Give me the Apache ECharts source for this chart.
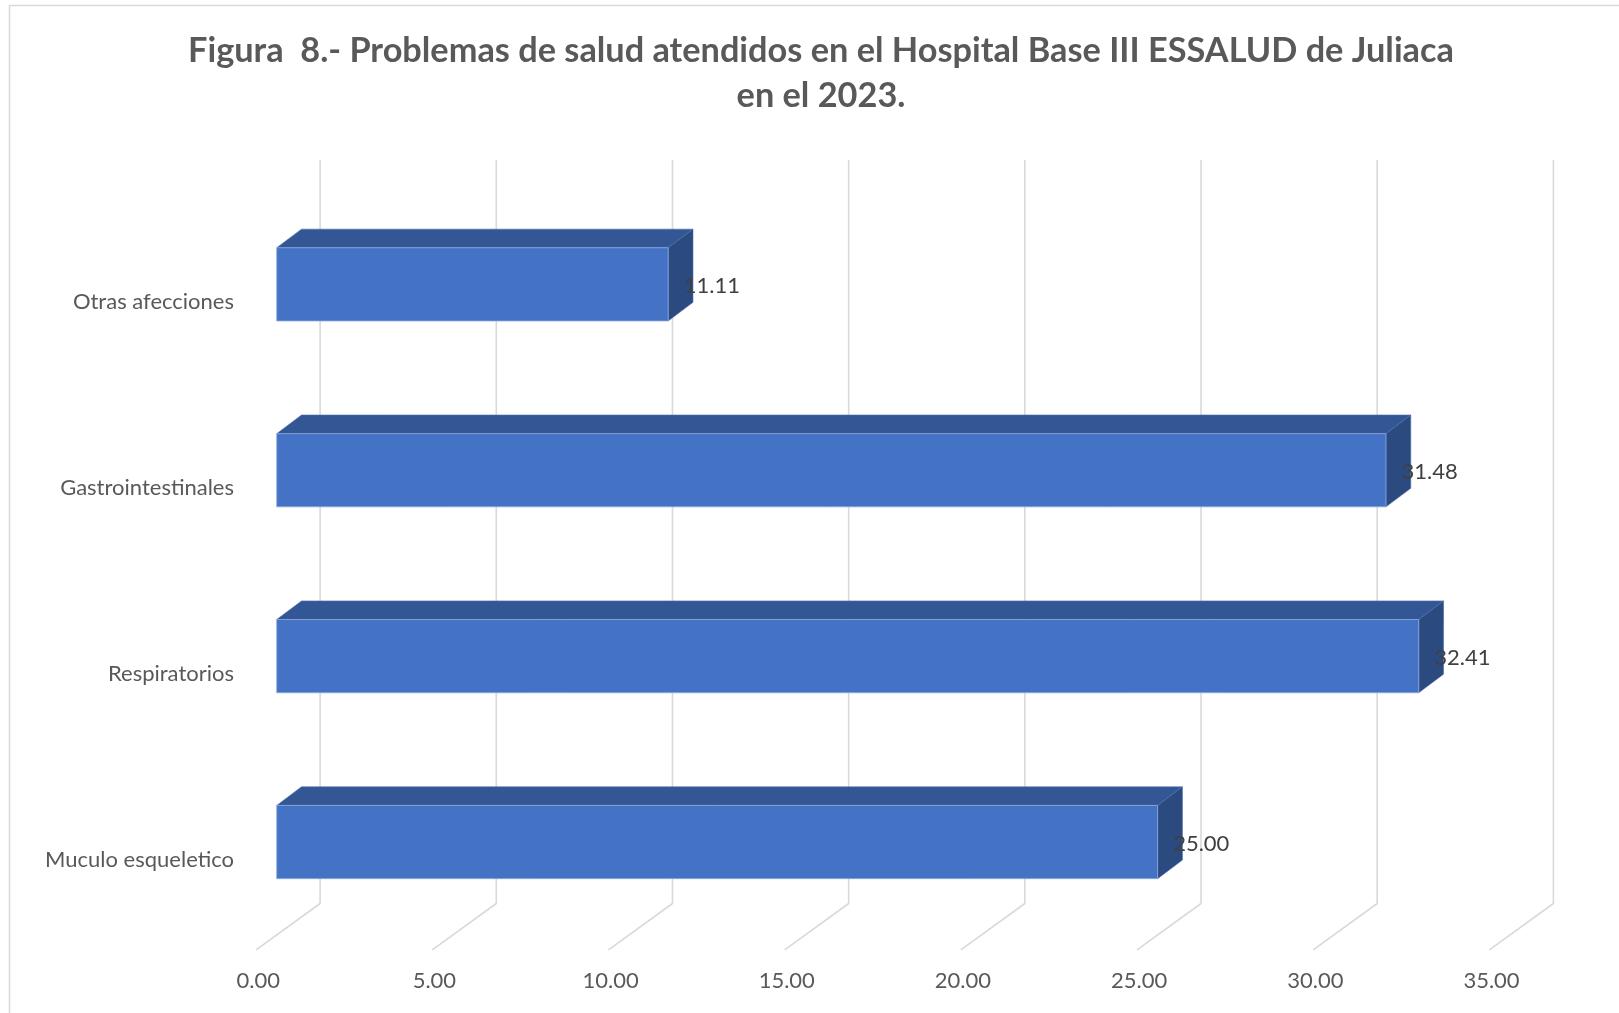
<!DOCTYPE html>
<html><head><meta charset="utf-8">
<script src="https://cdn.jsdelivr.net/npm/echarts@6/dist/echarts.min.js"></script>
<style>html,body{margin:0;padding:0;background:#fff}#c{width:1619px;height:1013px}</style>
</head><body><div id="c"></div>
<script>
const titleText = 'Figura  8.- Problemas de salud atendidos en el Hospital Base III ESSALUD de Juliaca\nen el 2023.';
const categories = ['Muculo esqueletico', 'Respiratorios', 'Gastrointestinales', 'Otras afecciones'];
const values = [25.00, 32.41, 31.48, 11.11];
const ticks = [0, 5, 10, 15, 20, 25, 30, 35];

const FONT = 'Lato, "Open Sans", sans-serif';
const DEPTH_BAR = [24.8, -18.6];
const WALL = [43.4, -31.5];
const FLOOR_FRONT = [-20.6, 14.8];

const chart = echarts.init(document.getElementById('c'), null, {renderer: 'canvas'});
chart.setOption({
  backgroundColor: '#ffffff',
  animation: false,
  title: {
    text: titleText,
    left: 816, top: 24, textAlign: 'center',
    textStyle: {fontFamily: FONT, fontSize: 34.3, fontWeight: 'bold', color: '#595959', lineHeight: 44.4}
  },
  graphic: [{
    type: 'rect', shape: {x: 9.5, y: 5.5, width: 1700, height: 1100},
    style: {fill: 'none', stroke: '#d9d9d9', lineWidth: 1.5}, z: -10
  }],
  grid: {left: 276.7, right: 109, top: 191.4, bottom: 78},
  xAxis: {
    type: 'value', min: 0, max: 35, interval: 5,
    axisLine: {show: false}, axisTick: {show: false}, splitLine: {show: false},
    axisLabel: {
      formatter: v => v.toFixed(2), margin: 35, padding: [0, 37, 0, 0],
      fontFamily: FONT, fontSize: 22, color: '#595959'
    }
  },
  yAxis: {
    type: 'category', data: categories,
    axisLine: {show: false}, axisTick: {show: false}, splitLine: {show: false},
    axisLabel: {margin: 42.7, formatter: v => '\n' + v, lineHeight: 35, fontFamily: FONT, fontSize: 22, color: '#595959'}
  },
  series: [
    {
      type: 'custom', z: 1, silent: true,
      data: ticks.map(t => [t, 0]),
      renderItem: function (params, api) {
        const cs = params.coordSys;
        const x = api.coord([api.value(0), 0])[0];
        const top = cs.y, bot = cs.y + cs.height;
        return {
          type: 'polyline',
          shape: {points: [
            [x + WALL[0], top + WALL[1]],
            [x + WALL[0], bot + WALL[1]],
            [x + FLOOR_FRONT[0], bot + FLOOR_FRONT[1]]
          ]},
          style: {stroke: '#d9d9d9', lineWidth: 1.6, fill: 'none'}
        };
      }
    },
    {
      type: 'custom', z: 5, silent: true,
      data: values.map((v, i) => [v, i]),
      renderItem: function (params, api) {
        const v = api.value(0), i = api.value(1);
        const s = api.coord([0, i]);
        const e = api.coord([v, i]);
        const band = api.size([0, 1])[1];
        const h = band * 0.394;
        const x0 = s[0], x1 = e[0], c = s[1];
        const yT = c - h / 2, yB = c + h / 2;
        const dx = DEPTH_BAR[0], dy = DEPTH_BAR[1];
        return {
          type: 'group',
          children: [
            {type: 'polygon', shape: {points: [[x0, yT], [x0 + dx, yT + dy], [x1 + dx, yT + dy], [x1, yT]]},
             style: {fill: '#335795', stroke: '#4a6fae', lineWidth: 0.6}},
            {type: 'polygon', shape: {points: [[x1, yT], [x1 + dx, yT + dy], [x1 + dx, yB + dy], [x1, yB]]},
             style: {fill: '#2b4a80', stroke: '#4a6fae', lineWidth: 0.6}},
            {type: 'rect', shape: {x: x0, y: yT, width: x1 - x0, height: h},
             style: {fill: '#4472c4', stroke: '#8fa9dd', lineWidth: 0.8}},
            {type: 'text', x: x1 + 15.5, y: c + 1.5,
             style: {text: v.toFixed(2), fill: '#404040', font: '22px ' + FONT, align: 'left', verticalAlign: 'middle'}, z2: 10}
          ]
        };
      }
    }
  ]
});
</script></body></html>
